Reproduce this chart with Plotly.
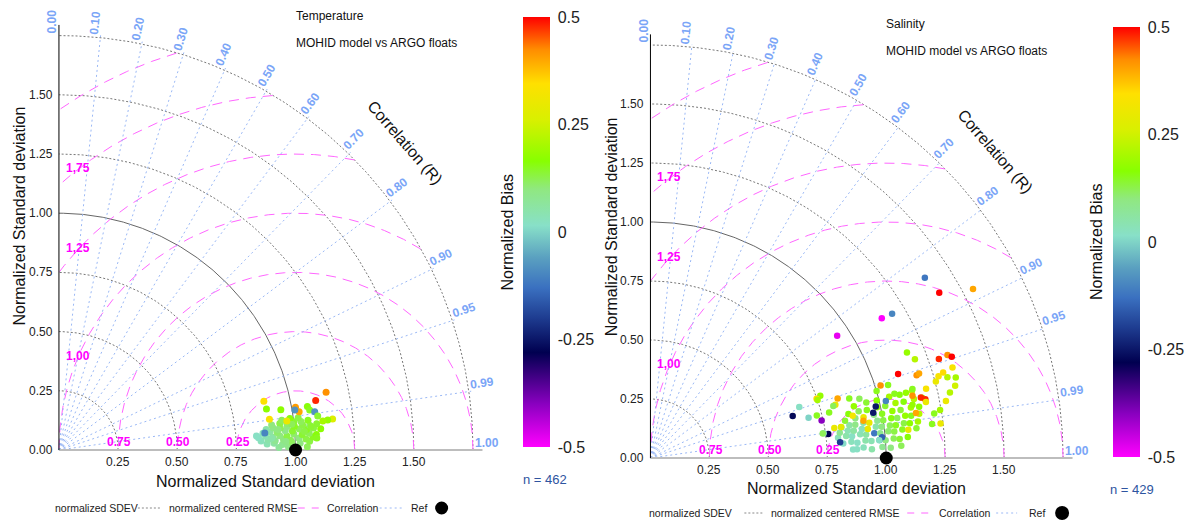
import numpy as np
import plotly.graph_objects as go

W, H = 1184, 520
FONT = "Arial, Liberation Sans, sans-serif"

# ---------------- data ----------------
sdev_levels = [0.25, 0.5, 0.75, 1.0, 1.25, 1.5, 1.75]
corr_levels = [0.0, 0.1, 0.2, 0.3, 0.4, 0.5, 0.6, 0.7, 0.8, 0.9, 0.95, 0.99, 1.0]
corr_labels = ["0.00", "0.10", "0.20", "0.30", "0.40", "0.50", "0.60",
               "0.70", "0.80", "0.90", "0.95", "0.99", "1.00"]
rmse_levels = [0.25, 0.5, 0.75, 1.0, 1.25, 1.5, 1.75]
rmse_labels = ["0.25", "0.50", "0.75", "1,00", "1,25", "1,75"]
x_tick_vals = [0.25, 0.5, 0.75, 1.0, 1.25, 1.5]
x_tick_text = ["0.25", "0.50", "0.75", "1.00", "1.25", "1.50"]
y_tick_vals = [0.0, 0.25, 0.5, 0.75, 1.0, 1.25, 1.5]
y_tick_text = ["0.00", "0.25", "0.50", "0.75", "1.00", "1.25", "1.50"]
bias_tick_vals = [-0.5, -0.25, 0, 0.25, 0.5]
bias_tick_text = ["-0.5", "-0.25", "0", "0.25", "0.5"]

# Temperature: normalized std, correlation, normalized bias
temp_sd = [
    0.93, 0.97, 1.01, 1.05,
    0.88, 0.91, 0.945, 0.985, 1.02, 1.06,
    0.855, 0.885, 0.915, 0.95, 0.98, 1.015, 1.045, 1.075,
    0.845, 0.875, 0.905, 0.935, 0.965, 0.995, 1.03, 1.06, 1.09,
    0.865, 0.895, 0.925, 0.96, 0.99, 1.02, 1.05, 1.08, 1.11,
    0.88, 0.91, 0.94, 0.97, 1.00, 1.035, 1.065, 1.095,
    0.905, 0.94, 0.97, 1.00, 1.03, 1.06,
    0.95, 0.985, 1.02,
    0.90, 0.96, 1.04, 0.93, 1.07, 0.99,
    1.155, 1.105, 0.890, 0.894, 1.016, 1.028, 0.953, 1.066, 1.073, 1.093,
    1.103, 0.899, 0.971, 1.164, 1.143, 1.122, 1.091, 0.837, 0.873, 1.011,
]
temp_r = [
    0.99993, 0.99990, 0.99995, 0.99992,
    0.9996, 0.9995, 0.9997, 0.9995, 0.9996, 0.9994,
    0.9990, 0.9988, 0.9991, 0.9989, 0.9991, 0.9988, 0.9990, 0.9987,
    0.9981, 0.9978, 0.9982, 0.9979, 0.9981, 0.9977, 0.9980, 0.9978, 0.9982,
    0.9967, 0.9963, 0.9968, 0.9964, 0.9967, 0.9962, 0.9966, 0.9963, 0.9967,
    0.9952, 0.9948, 0.9951, 0.9947, 0.9950, 0.9948, 0.9952, 0.9949,
    0.9932, 0.9929, 0.9933, 0.9928, 0.9931, 0.9929,
    0.9912, 0.9908, 0.9911,
    0.9985, 0.9993, 0.9972, 0.9957, 0.9957, 0.9940,
    0.9775, 0.982, 0.973, 0.981, 0.984, 0.9875, 0.984, 0.985, 0.9875, 0.989,
    0.9915, 0.9895, 0.992, 0.9937, 0.9938, 0.994, 0.9989, 0.9975, 0.9966, 0.986,
]
temp_bias = [
    0.07, 0.09, 0.11, 0.12,
    0.04, 0.06, 0.08, 0.11, 0.10, 0.13,
    0.03, 0.05, 0.08, 0.10, 0.12, 0.10, 0.13, 0.15,
    0.02, 0.04, 0.07, 0.10, 0.13, 0.11, 0.14, 0.12, 0.16,
    0.03, 0.06, 0.11, 0.09, 0.14, 0.12, 0.15, 0.13, 0.17,
    0.05, 0.09, 0.12, 0.10, 0.15, 0.13, 0.11, 0.14,
    0.10, 0.13, 0.11, 0.14, 0.12, 0.15,
    0.12, 0.16, 0.13,
    0.05, 0.09, 0.13, 0.10, 0.14, 0.12,
    0.42, 0.48, 0.34, 0.17, 0.41, 0.40, 0.17, 0.16, 0.15, -0.08,
    0.14, 0.33, 0.30, 0.27, 0.18, 0.20, 0.15, 0.02, -0.10, -0.08,
]
temp_n = 462

# Salinity: normalized std, correlation, normalized bias
sal_sd = [
    0.86, 0.905, 0.94, 0.985, 1.02, 1.065,
    0.82, 0.855, 0.88, 0.915, 0.94, 0.975, 1.00, 1.035, 1.06, 1.095,
    0.80, 0.835, 0.86, 0.895, 0.92, 0.955, 0.98, 1.015, 1.04, 1.075, 1.10, 1.135,
    0.81, 0.845, 0.87, 0.905, 0.93, 0.965, 0.99, 1.025, 1.05, 1.085, 1.11, 1.145,
    0.82, 0.855, 0.88, 0.915, 0.94, 0.975, 1.00, 1.035, 1.06, 1.095, 1.12, 1.155,
    0.84, 0.885, 0.92, 0.965, 1.00, 1.045, 1.08, 1.125, 1.16,
    0.86, 0.905, 0.94, 0.985, 1.02, 1.065, 1.10, 1.145, 1.18,
    0.89, 0.945, 0.99, 1.045, 1.09, 1.145,
    1.392, 1.411, 1.544, 1.146, 1.193, 0.946, 1.176, 1.197, 1.293, 1.333,
    1.348, 1.337, 1.109, 1.182, 1.194, 1.270, 1.293, 1.305, 1.253, 1.328,
    1.300, 1.276, 1.245, 1.239, 1.203, 1.023, 1.054, 1.118, 1.149, 1.142,
    0.833, 0.816, 0.767, 0.748, 0.667, 0.629, 0.692, 0.743, 0.728, 0.761,
    0.807, 0.742, 0.877, 0.980, 0.964, 0.986, 1.070, 0.917, 1.339, 1.000,
    1.205, 1.175, 1.192, 1.142, 1.192, 0.880, 0.921, 1.027, 0.750, 0.782,
    0.806, 0.738, 0.790, 0.819, 0.876, 1.134, 1.218, 0.973,
]
sal_r = [
    0.9991, 0.9988, 0.9992, 0.9989, 0.9991, 0.9988,
    0.9972, 0.9968, 0.9973, 0.9967, 0.9971, 0.9969, 0.9972, 0.9968, 0.9971, 0.9967,
    0.9943, 0.9938, 0.9942, 0.9937, 0.9941, 0.9939, 0.9943, 0.9938, 0.9942, 0.9937, 0.9941, 0.9938,
    0.9912, 0.9907, 0.9911, 0.9908, 0.9913, 0.9906, 0.9910, 0.9909, 0.9912, 0.9907, 0.9911, 0.9908,
    0.9872, 0.9867, 0.9871, 0.9866, 0.9873, 0.9868, 0.9872, 0.9867, 0.9871, 0.9866, 0.9872, 0.9868,
    0.9823, 0.9817, 0.9822, 0.9818, 0.9823, 0.9817, 0.9822, 0.9818, 0.9823,
    0.9763, 0.9757, 0.9762, 0.9758, 0.9763, 0.9757, 0.9762, 0.9758, 0.9763,
    0.9693, 0.9686, 0.9692, 0.9687, 0.9693, 0.9686,
    0.836, 0.868, 0.886, 0.856, 0.859, 0.837, 0.925, 0.937, 0.946, 0.945,
    0.948, 0.958, 0.947, 0.955, 0.954, 0.962, 0.960, 0.965, 0.966, 0.973,
    0.977, 0.982, 0.9866, 0.993, 0.9928, 0.954, 0.956, 0.969, 0.967, 0.973,
    0.953, 0.961, 0.939, 0.942, 0.946, 0.959, 0.969, 0.977, 0.969, 0.991,
    0.9966, 0.990, 0.9991, 0.975, 0.980, 0.996, 0.967, 0.985, 0.967, 0.959,
    0.970, 0.976, 0.978, 0.986, 0.980, 0.958, 0.962, 0.972, 0.945, 0.969,
    0.962, 0.990, 0.987, 0.987, 0.979, 0.980, 0.988, 0.997,
]
sal_bias = [
    0.02, 0.03, 0.05, 0.08, 0.10, 0.12,
    0.01, 0.03, 0.02, 0.05, 0.04, -0.10, 0.10, 0.12, 0.14, 0.16,
    0.03, 0.05, 0.02, 0.04, 0.06, -0.12, 0.08, 0.11, 0.13, 0.15, 0.30, 0.14,
    0.08, 0.04, 0.06, 0.03, 0.30, 0.05, 0.10, 0.12, 0.15, 0.13, 0.17, 0.20,
    0.12, 0.06, 0.09, 0.05, 0.30, 0.08, 0.13, 0.16, 0.12, 0.18, 0.15, 0.22,
    0.14, 0.10, 0.30, 0.09, 0.15, 0.18, 0.14, 0.20, 0.17,
    0.16, 0.12, 0.15, 0.18, 0.14, 0.20, 0.16, 0.22, 0.18,
    0.18, 0.14, 0.17, 0.20, 0.16, 0.22,
    -0.12, 0.50, 0.40, -0.50, -0.10, -0.48, 0.18, 0.22, 0.48, 0.42,
    0.50, 0.33, 0.50, 0.42, 0.40, 0.33, 0.35, 0.22, 0.30, 0.25,
    0.22, 0.30, 0.20, 0.30, 0.15, 0.42, 0.15, 0.18, 0.15, 0.42,
    0.40, 0.30, 0.18, 0.35, 0.02, -0.27, 0.00, -0.40, 0.15, -0.28,
    -0.20, 0.02, 0.02, -0.25, -0.25, -0.15, 0.15, 0.40, 0.20, 0.15,
    0.33, 0.48, 0.48, 0.40, 0.30, 0.15, 0.12, -0.10, 0.20, 0.15,
    0.12, 0.12, 0.30, 0.28, 0.32, 0.18, 0.15, 0.02,
]
sal_n = 429

bias_colorscale = [
    [0.0, "#ff00ff"], [0.10, "#8a00c0"], [0.22, "#000050"], [0.30, "#1e3c90"],
    [0.37, "#3a70c0"], [0.44, "#5aa0c0"], [0.515, "#88e0c8"], [0.60, "#90e880"],
    [0.665, "#88ff00"], [0.76, "#d8f000"], [0.845, "#ffe000"], [0.925, "#ff8c00"],
    [1.0, "#ff0000"],
]

# ---------------- figure ----------------
SD_MAX = 1.75
XMIN, XMAX, YMIN, YMAX = -0.24, 1.9, -0.2, 1.9
fig = go.Figure()


def polar_xy(sd, r):
    sd = np.asarray(sd, float)
    r = np.asarray(r, float)
    return sd * r, sd * np.sqrt(np.clip(1 - r ** 2, 0, None))


def add_panel(xa, ya, sd, r, bias, cax, msize):
    kw = dict(xaxis=xa, yaxis=ya, hoverinfo="skip", showlegend=False)
    th = np.linspace(0, np.pi / 2, 240)
    for s in sdev_levels:
        fig.add_trace(go.Scatter(x=s * np.cos(th), y=s * np.sin(th), mode="lines",
                                 line=dict(color="#666666" if s == 1.0 else "#777777",
                                           width=1, dash="solid" if s == 1.0 else "2px,2px"), **kw))
    phi = np.linspace(0, np.pi, 900)
    for R in rmse_levels:
        x = 1 + R * np.cos(phi)
        y = R * np.sin(phi)
        ok = (x >= 0) & (x ** 2 + y ** 2 <= SD_MAX ** 2 + 1e-9)
        xs = [xv if k else None for xv, k in zip(x, ok)]
        ys = [yv if k else None for yv, k in zip(y, ok)]
        fig.add_trace(go.Scatter(x=xs, y=ys, mode="lines", connectgaps=False,
                                 line=dict(color="#ff66ff", width=1, dash="10px,7px"), **kw))
    for c in corr_levels:
        if c in (0.0, 1.0):
            continue
        a = np.arccos(c)
        fig.add_trace(go.Scatter(x=[0, 1.76 * np.cos(a)], y=[0, 1.76 * np.sin(a)], mode="lines",
                                 line=dict(color="#9ab8f5", width=1, dash="2px,3px"), **kw))
    fig.add_trace(go.Scatter(x=[0, 1.79], y=[0, 0], mode="lines",
                             line=dict(color="#bdbdbd", width=2), **kw))
    fig.add_trace(go.Scatter(x=[0, 0], y=[0, 1.795], mode="lines",
                             line=dict(color="#000000", width=1), **kw))
    px, py = polar_xy(sd, r)
    fig.add_trace(go.Scatter(x=px, y=py, mode="markers",
                             marker=dict(size=msize, color=bias, coloraxis=cax, line=dict(width=0)),
                             **kw))
    fig.add_trace(go.Scatter(x=[1.0], y=[0.0], mode="markers",
                             marker=dict(size=13, color="black"), **kw))


add_panel("x", "y", temp_sd, temp_r, temp_bias, "coloraxis", 7)
add_panel("x2", "y2", sal_sd, sal_r, sal_bias, "coloraxis2", 6.5)

ann = []


def panel_text(xref, yref, xt_y, yt_y):
    for v, t in zip(x_tick_vals, x_tick_text):
        ann.append(dict(x=v, y=0, xref=xref, yref=yref, text=t, showarrow=False,
                        xanchor="center", yanchor="top", yshift=-3,
                        font=dict(family=FONT, size=12, color="#222")))
    for v, t in zip(y_tick_vals, y_tick_text):
        ann.append(dict(x=0, y=v, xref=xref, yref=yref, text=t, showarrow=False,
                        xanchor="right", yanchor="middle", xshift=-4,
                        font=dict(family=FONT, size=12, color="#222")))
    for c, lab in zip(corr_levels, corr_labels):
        a = np.degrees(np.arccos(c))
        aa = np.radians(a + 0.93)
        ann.append(dict(x=1.81 * np.cos(aa), y=1.81 * np.sin(aa), xref=xref, yref=yref,
                        text="<b>%s</b>" % lab, textangle=-a, showarrow=False,
                        xanchor="center", yanchor="middle",
                        font=dict(family=FONT, size=12, color="#7aa5f7")))
    for R, lab in zip(rmse_levels, rmse_labels):
        if R < 1:
            lx, ly = 1 - R + 0.005, 0.035
        else:
            lx, ly = 0.08, np.sqrt(R ** 2 - 0.92 ** 2) + 0.005
        ann.append(dict(x=lx, y=ly, xref=xref, yref=yref, text="<b>%s</b>" % lab,
                        showarrow=False, xanchor="center", yanchor="middle",
                        font=dict(family=FONT, size=12, color="#ff00ff")))
    ann.append(dict(x=1.463, y=1.30, xref=xref, yref=yref, text="Correlation (R)",
                    textangle=49, showarrow=False, xanchor="center", yanchor="middle",
                    font=dict(family=FONT, size=16, color="#111")))
    ann.append(dict(x=0.875, y=xt_y, xref=xref, yref=yref, text="Normalized Standard deviation",
                    showarrow=False, xanchor="center", yanchor="middle",
                    font=dict(family=FONT, size=16, color="#111")))
    ann.append(dict(x=-0.165, y=yt_y, xref=xref, yref=yref, text="Normalized Standard deviation",
                    textangle=-90, showarrow=False, xanchor="center", yanchor="middle",
                    font=dict(family=FONT, size=16, color="#111")))


panel_text("x", "y", -0.135, 0.99)
panel_text("x2", "y2", -0.13, 0.98)


def ptext(px, py, text, size=12, color="#111", anchor="left", angle=0):
    ann.append(dict(x=px / W, y=1 - py / H, xref="paper", yref="paper", text=text,
                    showarrow=False, xanchor=anchor, yanchor="middle", textangle=angle,
                    font=dict(family=FONT, size=size, color=color)))


ptext(294, 16, "Temperature")
ptext(294, 43, "MOHID model vs ARGO floats")
ptext(885, 24, "Salinity")
ptext(885, 51, "MOHID model vs ARGO floats")
ptext(508, 233, "Normalized Bias", size=16, anchor="center", angle=-90)
ptext(1097, 242, "Normalized Bias", size=16, anchor="center", angle=-90)
ptext(545, 479, "n = %d" % temp_n, size=13, color="#2e54a0", anchor="center")
ptext(1133, 489, "n = %d" % sal_n, size=13, color="#2e54a0", anchor="center")

shapes = []


def legend_row(py, xs, fsize, dot_r):
    (t1, l1a, l1b, t2, l2a, l2b, t3, l3a, l3b, t4, dcx) = xs
    ptext(t1, py, "normalized SDEV", size=fsize, color="#222")
    ptext(t2, py, "normalized centered RMSE", size=fsize, color="#222")
    ptext(t3, py, "Correlation", size=fsize, color="#222")
    ptext(t4, py, "Ref", size=fsize, color="#222")
    for (a, b, col, dash) in [(l1a, l1b, "#888888", "2px,2px"), (l2a, l2b, "#ff66ff", "7px,7px"),
                              (l3a, l3b, "#9bb8f5", "2px,3px")]:
        shapes.append(dict(type="line", xref="paper", yref="paper", x0=a / W, x1=b / W,
                           y0=1 - py / H, y1=1 - py / H, line=dict(color=col, width=1, dash=dash)))
    shapes.append(dict(type="circle", xref="paper", yref="paper",
                       x0=(dcx - dot_r) / W, x1=(dcx + dot_r) / W,
                       y0=1 - (py + dot_r) / H, y1=1 - (py - dot_r) / H,
                       fillcolor="black", line=dict(width=0)))


legend_row(508, (53, 138, 162, 167, 298, 319, 325, 380, 402, 409, 442), 10.5, 6.5)
legend_row(513, (648, 745, 763, 770, 908, 933, 938, 997, 1018, 1028, 1063), 10.5, 7)


def cbar(xpx, ytop):
    return dict(x=xpx / W, xanchor="left", y=1 - ytop / H, yanchor="top",
                len=430, lenmode="pixels", thickness=27, thicknessmode="pixels",
                xpad=0, ypad=0, outlinewidth=0,
                tickvals=bias_tick_vals, ticktext=bias_tick_text,
                ticks="outside", ticklen=5, tickcolor="rgba(0,0,0,0)",
                tickfont=dict(family=FONT, size=16, color="#222"))


def dom(origin_px, scale, lo, hi, total, flip=False):
    a = origin_px + lo * scale * (-1 if flip else 1)
    b = origin_px + hi * scale * (-1 if flip else 1)
    if flip:
        return [1 - a / total, 1 - b / total]
    return [a / total, b / total]


axis_common = dict(showgrid=False, zeroline=False, showline=False, showticklabels=False,
                   ticks="", automargin=False, fixedrange=True)

fig.update_layout(
    width=W, height=H, margin=dict(l=0, r=0, t=0, b=0),
    paper_bgcolor="white", plot_bgcolor="white", showlegend=False,
    xaxis=dict(domain=dom(59, 236.8, XMIN, XMAX, W), range=[XMIN, XMAX], anchor="y", **axis_common),
    yaxis=dict(domain=dom(450, 236.8, YMIN, YMAX, H, flip=True), range=[YMIN, YMAX], anchor="x",
               **axis_common),
    xaxis2=dict(domain=dom(651, 236.0, XMIN, XMAX, W), range=[XMIN, XMAX], anchor="y2",
                **axis_common),
    yaxis2=dict(domain=dom(458, 236.0, YMIN, YMAX, H, flip=True), range=[YMIN, YMAX], anchor="x2",
                **axis_common),
    coloraxis=dict(colorscale=bias_colorscale, cmin=-0.5, cmax=0.5, colorbar=cbar(523, 17)),
    coloraxis2=dict(colorscale=bias_colorscale, cmin=-0.5, cmax=0.5, colorbar=cbar(1113, 27)),
    annotations=ann, shapes=shapes,
)

fig.write_html("out.html", config={"displayModeBar": False},
               post_script="document.body.style.margin='0px';")
